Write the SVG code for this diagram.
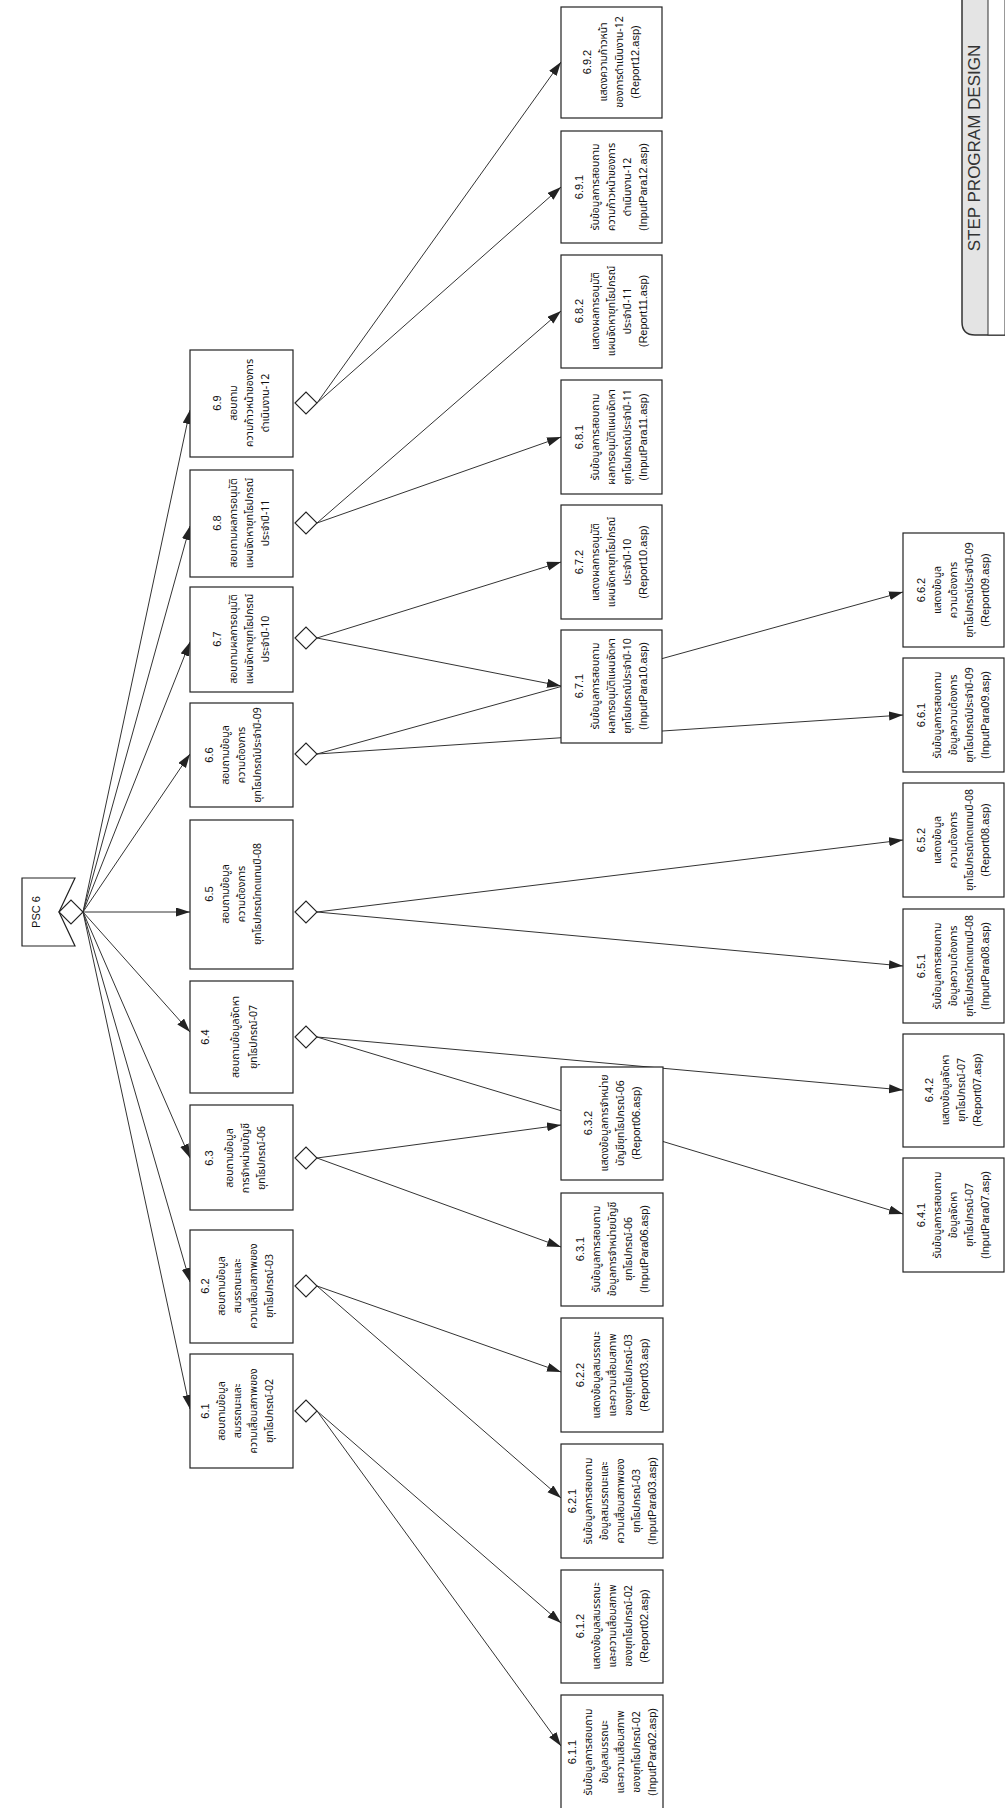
<svg xmlns="http://www.w3.org/2000/svg" width="1005" height="1808" viewBox="0 0 1005 1808">
<style>
.box{fill:#fff;stroke:#222;stroke-width:1.2}
.dia{fill:#fff;stroke:#222;stroke-width:1.1}
.con{fill:none;stroke:#333;stroke-width:1}
.t{font-family:"Noto Sans Thai","Noto Sans","DejaVu Sans",sans-serif;font-size:10.5px;fill:#111;text-anchor:middle}
.n{font-family:"Liberation Sans","Noto Sans",sans-serif;font-size:11px;fill:#111;text-anchor:middle}
.step{font-family:"Liberation Sans",sans-serif;font-size:17px;fill:#333;text-anchor:middle}
</style>
<defs>
<marker id="ah" markerUnits="userSpaceOnUse" markerWidth="15" markerHeight="10" refX="14" refY="4.5" orient="auto">
<path d="M0,0 L14,4.5 L0,9 z" fill="#222"/>
</marker>
</defs>
<rect width="1005" height="1808" fill="#fff"/>

<g id="step-title">
<path d="M1005,335 L975,335 Q962,335 962,322 L962,-2 L1005,-2" fill="#e4e4e4" stroke="#333" stroke-width="1.5"/>
<rect x="988" y="-2" width="17" height="337" fill="#fff" stroke="#333" stroke-width="1"/>
<text class="step" transform="translate(980,148) rotate(-90)">STEP  PROGRAM DESIGN</text>
</g>

<g id="connectors">
<line class="con" x1="83" y1="912" x2="190" y2="410" marker-end="url(#ah)"/>
<line class="con" x1="83" y1="912" x2="190" y2="526" marker-end="url(#ah)"/>
<line class="con" x1="83" y1="912" x2="190" y2="642" marker-end="url(#ah)"/>
<line class="con" x1="83" y1="912" x2="190" y2="754" marker-end="url(#ah)"/>
<line class="con" x1="83" y1="912" x2="190" y2="912" marker-end="url(#ah)"/>
<line class="con" x1="83" y1="912" x2="190" y2="1032" marker-end="url(#ah)"/>
<line class="con" x1="83" y1="912" x2="190" y2="1158" marker-end="url(#ah)"/>
<line class="con" x1="83" y1="912" x2="190" y2="1282" marker-end="url(#ah)"/>
<line class="con" x1="83" y1="912" x2="190" y2="1409" marker-end="url(#ah)"/>

<line class="con" x1="317" y1="403" x2="561" y2="62" marker-end="url(#ah)"/>
<line class="con" x1="317" y1="403" x2="561" y2="187" marker-end="url(#ah)"/>
<line class="con" x1="317" y1="523" x2="561" y2="311" marker-end="url(#ah)"/>
<line class="con" x1="317" y1="523" x2="561" y2="437" marker-end="url(#ah)"/>
<line class="con" x1="317" y1="638" x2="561" y2="562" marker-end="url(#ah)"/>
<line class="con" x1="317" y1="638" x2="561" y2="686" marker-end="url(#ah)"/>
<line class="con" x1="317" y1="754" x2="903" y2="592" marker-end="url(#ah)"/>
<line class="con" x1="317" y1="754" x2="903" y2="715" marker-end="url(#ah)"/>
<line class="con" x1="317" y1="912" x2="903" y2="840" marker-end="url(#ah)"/>
<line class="con" x1="317" y1="912" x2="903" y2="966" marker-end="url(#ah)"/>
<line class="con" x1="317" y1="1037" x2="903" y2="1090" marker-end="url(#ah)"/>
<line class="con" x1="317" y1="1037" x2="903" y2="1214" marker-end="url(#ah)"/>
<line class="con" x1="317" y1="1158" x2="561" y2="1125" marker-end="url(#ah)"/>
<line class="con" x1="317" y1="1158" x2="561" y2="1247" marker-end="url(#ah)"/>
<line class="con" x1="317" y1="1286" x2="561" y2="1372" marker-end="url(#ah)"/>
<line class="con" x1="317" y1="1286" x2="561" y2="1498" marker-end="url(#ah)"/>
<line class="con" x1="317" y1="1411" x2="561" y2="1623" marker-end="url(#ah)"/>
<line class="con" x1="317" y1="1411" x2="561" y2="1746" marker-end="url(#ah)"/>
</g>

<g id="psc6">
<polygon class="box" points="22,878 75,878 59,912 75,946 22,946"/>
<text class="n" transform="translate(40,912) rotate(-90)">PSC 6</text>
<polygon class="dia" points="59,912 71,900 83,912 71,924"/>
</g>

<!-- level 1 -->
<g id="n6-9">
<rect class="box" x="190" y="350" width="103" height="107"/>
<g transform="translate(241,403) rotate(-90)"><text class="n" y="-20">6.9</text><text class="t" y="-4">สอบถาม</text><text class="t" y="12">ความก้าวหน้าของการ</text><text class="t" y="28">ดำเนินงาน-12</text></g>
<polygon class="dia" points="295,403 306,392 317,403 306,414"/>
</g>
<g id="n6-8">
<rect class="box" x="190" y="470" width="103" height="107"/>
<g transform="translate(241,523) rotate(-90)"><text class="n" y="-20">6.8</text><text class="t" y="-4">สอบถามผลการอนุมัติ</text><text class="t" y="12">แผนจัดหายุทโธปกรณ์</text><text class="t" y="28">ประจำปี-11</text></g>
<polygon class="dia" points="295,523 306,512 317,523 306,534"/>
</g>
<g id="n6-7">
<rect class="box" x="190" y="587" width="103" height="105"/>
<g transform="translate(241,639) rotate(-90)"><text class="n" y="-20">6.7</text><text class="t" y="-4">สอบถามผลการอนุมัติ</text><text class="t" y="12">แผนจัดหายุทโธปกรณ์</text><text class="t" y="28">ประจำปี-10</text></g>
<polygon class="dia" points="295,638 306,627 317,638 306,649"/>
</g>
<g id="n6-6">
<rect class="box" x="190" y="703" width="103" height="104"/>
<g transform="translate(241,755) rotate(-90)"><text class="n" y="-28">6.6</text><text class="t" y="-12">สอบถามข้อมูล</text><text class="t" y="4">ความต้องการ</text><text class="t" y="20">ยุทโธปกรณ์ประจำปี-09</text></g>
<polygon class="dia" points="295,754 306,743 317,754 306,765"/>
</g>
<g id="n6-5">
<rect class="box" x="190" y="820" width="103" height="149"/>
<g transform="translate(241,894) rotate(-90)"><text class="n" y="-28">6.5</text><text class="t" y="-12">สอบถามข้อมูล</text><text class="t" y="4">ความต้องการ</text><text class="t" y="20">ยุทโธปกรณ์ทดแทนปี-08</text></g>
<polygon class="dia" points="295,912 306,901 317,912 306,923"/>
</g>
<g id="n6-4">
<rect class="box" x="190" y="981" width="103" height="112"/>
<g transform="translate(241,1037) rotate(-90)"><text class="n" y="-32">6.4</text><text class="t" y="-2">สอบถามข้อมูลจัดหา</text><text class="t" y="16">ยุทโธปกรณ์-07</text></g>
<polygon class="dia" points="295,1037 306,1026 317,1037 306,1048"/>
</g>
<g id="n6-3">
<rect class="box" x="190" y="1105" width="103" height="105"/>
<g transform="translate(241,1158) rotate(-90)"><text class="n" y="-28">6.3</text><text class="t" y="-8">สอบถามข้อมูล</text><text class="t" y="8">การจำหน่ายบัญชี</text><text class="t" y="24">ยุทโธปกรณ์-06</text></g>
<polygon class="dia" points="295,1158 306,1147 317,1158 306,1169"/>
</g>
<g id="n6-2">
<rect class="box" x="190" y="1230" width="103" height="113"/>
<g transform="translate(241,1286) rotate(-90)"><text class="n" y="-32">6.2</text><text class="t" y="-16">สอบถามข้อมูล</text><text class="t" y="0">สมรรถนะและ</text><text class="t" y="16">ความเสื่อมสภาพของ</text><text class="t" y="32">ยุทโธปกรณ์-03</text></g>
<polygon class="dia" points="295,1286 306,1275 317,1286 306,1297"/>
</g>
<g id="n6-1">
<rect class="box" x="190" y="1354" width="103" height="114"/>
<g transform="translate(241,1411) rotate(-90)"><text class="n" y="-32">6.1</text><text class="t" y="-16">สอบถามข้อมูล</text><text class="t" y="0">สมรรถนะและ</text><text class="t" y="16">ความเสื่อมสภาพของ</text><text class="t" y="32">ยุทโธปกรณ์-02</text></g>
<polygon class="dia" points="295,1411 306,1400 317,1411 306,1422"/>
</g>

<!-- level 2, column A top -->
<g id="n6-9-2">
<rect class="box" x="561" y="7" width="101" height="111"/>
<g transform="translate(611,62) rotate(-90)"><text class="n" y="-20">6.9.2</text><text class="t" y="-4">แสดงความก้าวหน้า</text><text class="t" y="12">ของการดำเนินงาน-12</text><text class="n" y="28">(Report12.asp)</text></g>
</g>
<g id="n6-9-1">
<rect class="box" x="561" y="131" width="101" height="112"/>
<g transform="translate(611,187) rotate(-90)"><text class="n" y="-28">6.9.1</text><text class="t" y="-12">รับข้อมูลการสอบถาม</text><text class="t" y="4">ความก้าวหน้าของการ</text><text class="t" y="20">ดำเนินงาน-12</text><text class="n" y="36">(InputPara12.asp)</text></g>
</g>
<g id="n6-8-2">
<rect class="box" x="561" y="255" width="101" height="113"/>
<g transform="translate(611,311) rotate(-90)"><text class="n" y="-28">6.8.2</text><text class="t" y="-12">แสดงผลการอนุมัติ</text><text class="t" y="4">แผนจัดหายุทโธปกรณ์</text><text class="t" y="20">ประจำปี-11</text><text class="n" y="36">(Report11.asp)</text></g>
</g>
<g id="n6-8-1">
<rect class="box" x="561" y="380" width="101" height="114"/>
<g transform="translate(611,437) rotate(-90)"><text class="n" y="-28">6.8.1</text><text class="t" y="-12">รับข้อมูลการสอบถาม</text><text class="t" y="4">ผลการอนุมัติแผนจัดหา</text><text class="t" y="20">ยุทโธปกรณ์ประจำปี-11</text><text class="n" y="36">(InputPara11.asp)</text></g>
</g>
<g id="n6-7-2">
<rect class="box" x="561" y="505" width="101" height="114"/>
<g transform="translate(611,562) rotate(-90)"><text class="n" y="-28">6.7.2</text><text class="t" y="-12">แสดงผลการอนุมัติ</text><text class="t" y="4">แผนจัดหายุทโธปกรณ์</text><text class="t" y="20">ประจำปี-10</text><text class="n" y="36">(Report10.asp)</text></g>
</g>
<g id="n6-7-1">
<rect class="box" x="561" y="630" width="101" height="113"/>
<g transform="translate(611,686) rotate(-90)"><text class="n" y="-28">6.7.1</text><text class="t" y="-12">รับข้อมูลการสอบถาม</text><text class="t" y="4">ผลการอนุมัติแผนจัดหา</text><text class="t" y="20">ยุทโธปกรณ์ประจำปี-10</text><text class="n" y="36">(InputPara10.asp)</text></g>
</g>

<!-- column A bottom -->
<g id="n6-3-2">
<rect class="box" x="561" y="1067" width="102" height="113"/>
<g transform="translate(612,1123) rotate(-90)"><text class="n" y="-20">6.3.2</text><text class="t" y="-4">แสดงข้อมูลการจำหน่าย</text><text class="t" y="12">บัญชียุทโธปกรณ์-06</text><text class="n" y="28">(Report06.asp)</text></g>
</g>
<g id="n6-3-1">
<rect class="box" x="561" y="1193" width="102" height="113"/>
<g transform="translate(612,1249) rotate(-90)"><text class="n" y="-28">6.3.1</text><text class="t" y="-12">รับข้อมูลการสอบถาม</text><text class="t" y="4">ข้อมูลการจำหน่ายบัญชี</text><text class="t" y="20">ยุทโธปกรณ์-06</text><text class="n" y="36">(InputPara06.asp)</text></g>
</g>
<g id="n6-2-2">
<rect class="box" x="561" y="1318" width="102" height="114"/>
<g transform="translate(612,1375) rotate(-90)"><text class="n" y="-28">6.2.2</text><text class="t" y="-12">แสดงข้อมูลสมรรถนะ</text><text class="t" y="4">และความเสื่อมสภาพ</text><text class="t" y="20">ของยุทโธปกรณ์-03</text><text class="n" y="36">(Report03.asp)</text></g>
</g>
<g id="n6-2-1">
<rect class="box" x="561" y="1444" width="102" height="114"/>
<g transform="translate(612,1501) rotate(-90)"><text class="n" y="-36">6.2.1</text><text class="t" y="-20">รับข้อมูลการสอบถาม</text><text class="t" y="-4">ข้อมูลสมรรถนะและ</text><text class="t" y="12">ความเสื่อมสภาพของ</text><text class="t" y="28">ยุทโธปกรณ์-03</text><text class="n" y="44">(InputPara03.asp)</text></g>
</g>
<g id="n6-1-2">
<rect class="box" x="561" y="1570" width="102" height="113"/>
<g transform="translate(612,1626) rotate(-90)"><text class="n" y="-28">6.1.2</text><text class="t" y="-12">แสดงข้อมูลสมรรถนะ</text><text class="t" y="4">และความเสื่อมสภาพ</text><text class="t" y="20">ของยุทโธปกรณ์-02</text><text class="n" y="36">(Report02.asp)</text></g>
</g>
<g id="n6-1-1">
<rect class="box" x="561" y="1695" width="102" height="115"/>
<g transform="translate(612,1752) rotate(-90)"><text class="n" y="-36">6.1.1</text><text class="t" y="-20">รับข้อมูลการสอบถาม</text><text class="t" y="-4">ข้อมูลสมรรถนะ</text><text class="t" y="12">และความเสื่อมสภาพ</text><text class="t" y="28">ของยุทโธปกรณ์-02</text><text class="n" y="44">(InputPara02.asp)</text></g>
</g>

<!-- column B -->
<g id="n6-6-2">
<rect class="box" x="903" y="533" width="101" height="114"/>
<g transform="translate(953,590) rotate(-90)"><text class="n" y="-28">6.6.2</text><text class="t" y="-12">แสดงข้อมูล</text><text class="t" y="4">ความต้องการ</text><text class="t" y="20">ยุทโธปกรณ์ประจำปี-09</text><text class="n" y="36">(Report09.asp)</text></g>
</g>
<g id="n6-6-1">
<rect class="box" x="903" y="658" width="101" height="114"/>
<g transform="translate(953,715) rotate(-90)"><text class="n" y="-28">6.6.1</text><text class="t" y="-12">รับข้อมูลการสอบถาม</text><text class="t" y="4">ข้อมูลความต้องการ</text><text class="t" y="20">ยุทโธปกรณ์ประจำปี-09</text><text class="n" y="36">(InputPara09.asp)</text></g>
</g>
<g id="n6-5-2">
<rect class="box" x="903" y="783" width="101" height="114"/>
<g transform="translate(953,840) rotate(-90)"><text class="n" y="-28">6.5.2</text><text class="t" y="-12">แสดงข้อมูล</text><text class="t" y="4">ความต้องการ</text><text class="t" y="20">ยุทโธปกรณ์ทดแทนปี-08</text><text class="n" y="36">(Report08.asp)</text></g>
</g>
<g id="n6-5-1">
<rect class="box" x="903" y="909" width="101" height="114"/>
<g transform="translate(953,966) rotate(-90)"><text class="n" y="-28">6.5.1</text><text class="t" y="-12">รับข้อมูลการสอบถาม</text><text class="t" y="4">ข้อมูลความต้องการ</text><text class="t" y="20">ยุทโธปกรณ์ทดแทนปี-08</text><text class="n" y="36">(InputPara08.asp)</text></g>
</g>
<g id="n6-4-2">
<rect class="box" x="903" y="1034" width="101" height="113"/>
<g transform="translate(953,1090) rotate(-90)"><text class="n" y="-20">6.4.2</text><text class="t" y="-4">แสดงข้อมูลจัดหา</text><text class="t" y="12">ยุทโธปกรณ์-07</text><text class="n" y="28">(Report07.asp)</text></g>
</g>
<g id="n6-4-1">
<rect class="box" x="903" y="1158" width="101" height="114"/>
<g transform="translate(953,1215) rotate(-90)"><text class="n" y="-28">6.4.1</text><text class="t" y="-12">รับข้อมูลการสอบถาม</text><text class="t" y="4">ข้อมูลจัดหา</text><text class="t" y="20">ยุทโธปกรณ์-07</text><text class="n" y="36">(InputPara07.asp)</text></g>
</g>
</svg>
